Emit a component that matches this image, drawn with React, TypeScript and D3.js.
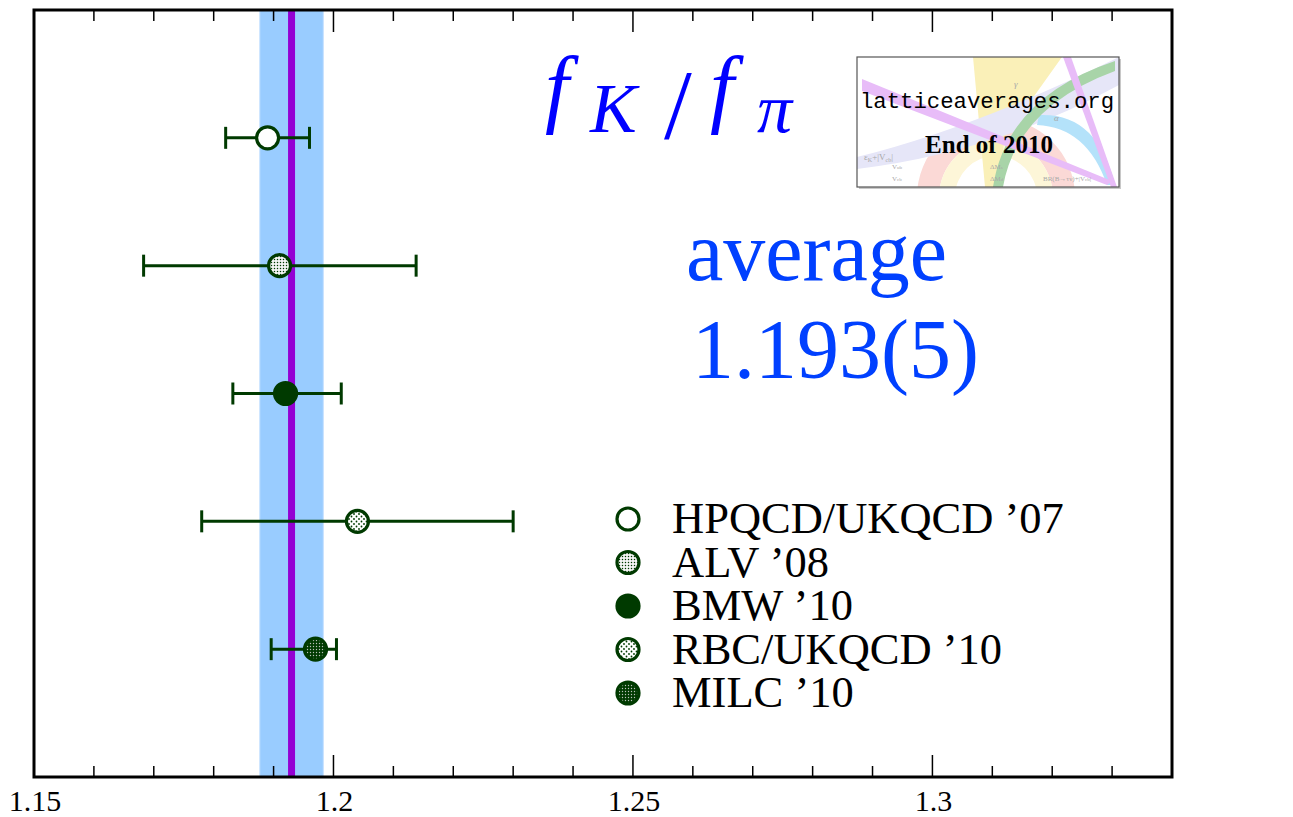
import React from 'react';
import * as d3 from 'd3';

// lattice results for fK/fpi
const experiments = ['HPQCD/UKQCD \u201907', 'ALV \u201908', 'BMW \u201910', 'RBC/UKQCD \u201910', 'MILC \u201910'];
const centralValues = [1.189, 1.191, 1.192, 1.204, 1.197];
const errorsLow = [0.007, 0.0227, 0.0088, 0.026, 0.0074];
const errorsHigh = [0.007, 0.0228, 0.0093, 0.026, 0.0035];
const markerKinds = ['open', 'dense', 'solid', 'sparse', 'dark'];

const averageValue = 1.193;
const averageError = 0.0053;

const majorTicks = [1.15, 1.2, 1.25, 1.3];
const tickLabels = ['1.15', '1.2', '1.25', '1.3'];
const minorTicks = d3.range(1.16, 1.345, 0.01).filter(
  (v) => !majorTicks.some((m) => Math.abs(m - v) < 1e-6)
);

const W = 1293;
const H = 817;
const plot = { left: 34, right: 1172, top: 10, bottom: 777 };

const green = '#003a00';
const serif = '"Liberation Serif", "Times New Roman", serif';

const markerFill = (kind) => {
  if (kind === 'open') return '#ffffff';
  if (kind === 'solid') return green;
  if (kind === 'dense') return 'url(#dotsDense)';
  if (kind === 'sparse') return 'url(#dotsSparse)';
  return 'url(#dotsDark)';
};

const Marker = ({ cx, cy, kind }) => (
  <circle cx={cx} cy={cy} r={11} fill={markerFill(kind)} stroke={green} strokeWidth={3.2} />
);

const Logo = () => {
  const bx = 857, by = 57, bw = 262, bh = 130;
  return (
    <g>
      <rect x={bx + 2} y={by + 2} width={bw} height={bh} fill="#c8c8c8" />
      <clipPath id="logoClip">
        <rect x={bx} y={by} width={bw} height={bh} />
      </clipPath>
      <rect x={bx} y={by} width={bw} height={bh} fill="#ffffff" />
      <g clipPath="url(#logoClip)">
        <path d={`M ${bx + 60} ${by + bh + 10} A 78 78 0 0 1 ${bx + 218} ${by + bh + 10} L ${bx + 196} ${by + bh + 10} A 56 56 0 0 0 ${bx + 82} ${by + bh + 10} Z`} fill="#fbd9d6" />
        <path d={`M ${bx + 82} ${by + bh + 10} A 56 56 0 0 1 ${bx + 196} ${by + bh + 10} L ${bx + 180} ${by + bh + 10} A 40 40 0 0 0 ${bx + 98} ${by + bh + 10} Z`} fill="#fdf6d8" />
        <polygon points={`${bx + 116},${by} ${bx + 205},${by} ${bx + 148},${by + 80} ${bx + 140},${by + bh} ${bx + 128},${by + bh}`} fill="#faf0b8" />
        <path d={`M ${bx} ${by + 100} Q ${bx + 120} ${by + 70} ${bx + 262} ${by} L ${bx + 262} ${by + 28} Q ${bx + 140} ${by + 95} ${bx} ${by + 112} Z`} fill="#e6e6f8" />
        <path d={`M ${bx + 182} ${by + 58} Q ${bx + 240} ${by + 55} ${bx + 258} ${by + 128} L ${bx + 250} ${by + 128} Q ${bx + 230} ${by + 70} ${bx + 180} ${by + 68} Z`} fill="#b4e2fa" />
        <path d={`M ${bx + 136} ${by + bh} Q ${bx + 150} ${by + 40} ${bx + 258} ${by + 4} L ${bx + 258} ${by + 14} Q ${bx + 160} ${by + 50} ${bx + 146} ${by + bh} Z`} fill="#a8d4a8" />
        <polygon points={`${bx + 5},${by + 22} ${bx + 5},${by + 34} ${bx + 250},${by + bh - 2} ${bx + 255},${by + bh - 6}`} fill="#e8bcf8" />
        <polygon points={`${bx + 206},${by} ${bx + 214},${by} ${bx + 260},${by + bh} ${bx + 254},${by + bh}`} fill="#e8bcf8" />
        <text x={bx + 157} y={by + 30} fontFamily={serif} fontStyle="italic" fontSize={9} fill="#a8a8a8">γ</text>
        <text x={bx + 197} y={by + 64} fontFamily={serif} fontStyle="italic" fontSize={9} fill="#a8a8a8">α</text>
        <text x={bx + 7} y={by + 103} fontFamily={serif} fontSize={9} fill="#a8a8a8">ε<tspan fontSize={6} dy={2}>K</tspan><tspan dy={-2}>+|V</tspan><tspan fontSize={6} dy={2}>cb</tspan><tspan dy={-2}>|</tspan></text>
        <text x={bx + 35} y={by + 112} fontFamily={serif} fontSize={7} fill="#a8a8a8">V<tspan fontSize={5}>ub</tspan></text>
        <text x={bx + 35} y={by + 124} fontFamily={serif} fontSize={7} fill="#a8a8a8">V<tspan fontSize={5}>cb</tspan></text>
        <text x={bx + 133} y={by + 112} fontFamily={serif} fontSize={7} fill="#a8a8a8">ΔM<tspan fontSize={5}>s</tspan></text>
        <text x={bx + 133} y={by + 124} fontFamily={serif} fontSize={7} fill="#a8a8a8">ΔM<tspan fontSize={5}>d</tspan></text>
        <text x={bx + 186} y={by + 124} fontFamily={serif} fontSize={7} fill="#a8a8a8">BR(B→τν)+|V<tspan fontSize={5}>cb</tspan>|</text>
      </g>
      <rect x={bx} y={by} width={bw} height={bh} fill="none" stroke="#555555" strokeWidth={1.2} />
      <text x={bx + bw / 2 - 1} y={by + 51} textAnchor="middle" fontFamily='"Liberation Mono", "Courier New", monospace' fontSize={22.3} fill="#000">latticeaverages.org</text>
      <text x={bx + bw / 2 + 1} y={by + 96} textAnchor="middle" fontFamily={serif} fontWeight="bold" fontSize={25} fill="#000">End of 2010</text>
    </g>
  );
};

export default function App() {
  const x = d3.scaleLinear().domain([1.15, 1.34]).range([plot.left, plot.right]);
  const y = d3.scaleLinear().domain([0, 6]).range([plot.top, plot.bottom]);
  const yLegend = d3.scaleLinear().domain([0, 4]).range([519, 693]);

  const bandLeft = x(averageValue - averageError);
  const bandRight = x(averageValue + averageError);

  return (
    <svg width={W} height={H} style={{ position: 'absolute', left: 0, top: 0, background: '#fff' }}>
      <defs>
        <pattern id="dotsDense" width={3} height={3} patternUnits="userSpaceOnUse">
          <rect width={3} height={3} fill="#f4f4f4" />
          <circle cx={1.5} cy={1.5} r={0.75} fill={green} />
        </pattern>
        <pattern id="dotsSparse" width={5} height={5} patternUnits="userSpaceOnUse">
          <rect width={5} height={5} fill="#ffffff" />
          <circle cx={1.5} cy={1.5} r={0.9} fill={green} />
          <circle cx={4} cy={4} r={0.9} fill={green} />
        </pattern>
        <pattern id="dotsDark" width={3} height={3} patternUnits="userSpaceOnUse">
          <rect width={3} height={3} fill={green} />
          <circle cx={1.5} cy={1.5} r={0.7} fill="#b8c0b8" />
        </pattern>
      </defs>

      {/* average band */}
      <rect x={bandLeft} y={plot.top} width={bandRight - bandLeft} height={plot.bottom - plot.top}
        fill="#99ccff" stroke="#c4e0ff" strokeWidth={1} />
      <line x1={x(averageValue)} x2={x(averageValue)} y1={plot.top} y2={plot.bottom}
        stroke="#9400d3" strokeWidth={7} />

      {/* error bars */}
      {centralValues.map((v, i) => {
        const cy = y(i + 1);
        const lo = x(v - errorsLow[i]);
        const hi = x(v + errorsHigh[i]);
        return (
          <g key={experiments[i]} stroke={green} strokeWidth={3}>
            <line x1={lo} x2={hi} y1={cy} y2={cy} />
            <line x1={lo} x2={lo} y1={cy - 11} y2={cy + 11} />
            <line x1={hi} x2={hi} y1={cy - 11} y2={cy + 11} />
          </g>
        );
      })}
      {centralValues.map((v, i) => (
        <Marker key={'m' + i} cx={x(v)} cy={y(i + 1)} kind={markerKinds[i]} />
      ))}

      {/* frame and ticks */}
      <rect x={plot.left} y={plot.top} width={plot.right - plot.left} height={plot.bottom - plot.top}
        fill="none" stroke="#000" strokeWidth={3} />
      {minorTicks.map((t) => (
        <g key={'mt' + t} stroke="#000" strokeWidth={1.5}>
          <line x1={x(t)} x2={x(t)} y1={plot.bottom} y2={plot.bottom - 11} />
          <line x1={x(t)} x2={x(t)} y1={plot.top} y2={plot.top + 11} />
        </g>
      ))}
      {majorTicks.map((t, i) => (
        <g key={'Mt' + t}>
          <line x1={x(t)} x2={x(t)} y1={plot.bottom} y2={plot.bottom - 22} stroke="#000" strokeWidth={1.5} />
          <line x1={x(t)} x2={x(t)} y1={plot.top} y2={plot.top + 22} stroke="#000" strokeWidth={1.5} />
          <text x={x(t) + 1} y={811} textAnchor="middle" fontFamily={serif} fontSize={30} fill="#000">
            {tickLabels[i]}
          </text>
        </g>
      ))}

      {/* title */}
      <g fill="#0000ff" fontFamily={serif}>
        <text x={545} y={116} fontSize={86} fontStyle="italic">f</text>
        <text x={590} y={132} fontSize={70} fontStyle="italic">K</text>
        <text x={664} y={138} fontSize={100}>/</text>
        <text x={710} y={116} fontSize={86} fontStyle="italic">f</text>
        <text x={757} y={132} fontSize={70} fontStyle="italic">π</text>
      </g>

      {/* average text */}
      <text x={686} y={280} fontFamily={serif} fontSize={84} fill="#0040ff">average</text>
      <text x={692} y={378} fontFamily={serif} fontSize={84} fill="#0040ff">{`${averageValue}(${Math.round(averageError * 1000)})`}</text>

      <Logo />

      {/* legend */}
      {experiments.map((name, i) => (
        <g key={'lg' + i}>
          <Marker cx={628} cy={yLegend(i)} kind={markerKinds[i]} />
          <text x={672} y={yLegend(i) + 14} fontFamily={serif} fontSize={44.5} fill="#000">{name}</text>
        </g>
      ))}
    </svg>
  );
}
